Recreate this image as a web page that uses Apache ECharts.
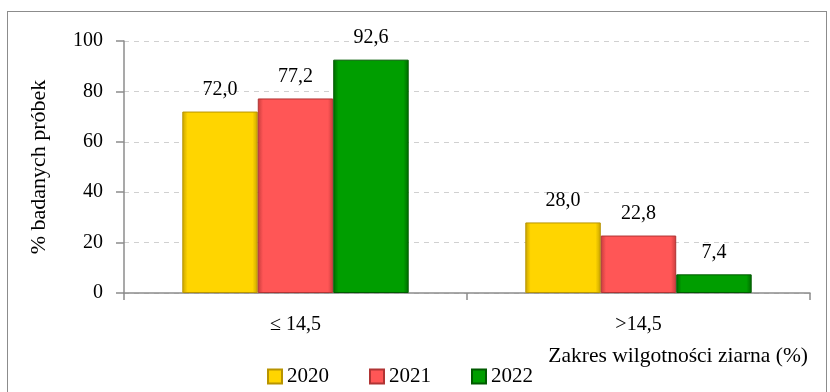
<!DOCTYPE html>
<html><head><meta charset="utf-8">
<script src="https://cdn.jsdelivr.net/npm/echarts@6/dist/echarts.min.js"></script>
<style>
html,body{margin:0;padding:0;background:#fff;}
#frame{position:absolute;left:7px;top:11px;width:820px;height:390px;border:1.5px solid #8c8c8c;box-sizing:border-box;}
#chart{position:absolute;left:0;top:0;width:830px;height:392px;}
</style></head>
<body>
<div id="frame"></div>
<div id="chart"></div>
<script>
const categories = ['\u2264 14,5', '>14,5'];
const seriesNames = ['2020', '2021', '2022'];
const values2020 = [72.0, 28.0];
const values2021 = [77.2, 22.8];
const values2022 = [92.6, 7.4];
const yTicks = [0, 20, 40, 60, 80, 100];

const font = 'Liberation Serif';
const fs = 20;
const palettes = [
  {main:'#FFD500', light:'#FFF07A', dark:'#C9A400', border:'#B89400'},
  {main:'#FF5656', light:'#FF9A9A', dark:'#C83C3C', border:'#B03434'},
  {main:'#009E00', light:'#3FD03F', dark:'#006A00', border:'#005A00'}
];
function grad(p){
  return new echarts.graphic.LinearGradient(0,0,1,0,[
    {offset:0,color:p.dark},{offset:0.07,color:p.main},{offset:0.93,color:p.main},{offset:1,color:p.dark}
  ]);
}
const data = [values2020, values2021, values2022];
const chart = echarts.init(document.getElementById('chart'), null, {renderer:'canvas'});
chart.setOption({
  animation:false,
  textStyle:{fontFamily:font},
  grid:{left:124, right:20, top:41, bottom:99, containLabel:false},
  legend:{
    data:seriesNames.map(n=>({name:n, icon:'rect'})), bottom:0, left:262, itemWidth:14, itemHeight:14, itemGap:40,
    textStyle:{fontFamily:font, fontSize:21, color:'#000', padding:[0,0,0,0]}
  },
  xAxis:{
    type:'category', data:categories,
    axisLine:{lineStyle:{color:'#8c8c8c', width:1.5}},
    axisTick:{show:true, length:7, lineStyle:{color:'#8c8c8c', width:1.5}},
    axisLabel:{fontFamily:font, fontSize:fs, color:'#000', margin:22},
    name:'Zakres wilgotności ziarna (%)', nameLocation:'end',
    nameTextStyle:{fontFamily:font, fontSize:21.5, color:'#000', align:'right', verticalAlign:'top', padding:[52,0,0,0]},
    nameGap:-2
  },
  yAxis:{
    type:'value', min:0, max:100, interval:20,
    axisLine:{show:true, lineStyle:{color:'#8c8c8c', width:1.5}},
    axisTick:{show:true, length:8, lineStyle:{color:'#8c8c8c', width:1.5}},
    axisLabel:{fontFamily:font, fontSize:fs, color:'#000', margin:21},
    splitLine:{show:true, lineStyle:{color:'#d0d0d0', type:[5,5], width:1}},
    name:'% badanych próbek', nameLocation:'middle', nameGap:74,
    nameTextStyle:{fontFamily:font, fontSize:22, color:'#000'}
  },
  series: seriesNames.map((n,i)=>({
    name:n, type:'bar', data:data[i], barGap:'0%', barCategoryGap:'34%',
    itemStyle:{color:grad(palettes[i]), borderColor:palettes[i].border, borderWidth:1},
    label:{show:true, position:'top', distance:12, fontFamily:font, fontSize:fs, color:'#000',
      formatter:p=>p.value.toFixed(1).replace('.',',')}
  }))
});
</script>
</body></html>
